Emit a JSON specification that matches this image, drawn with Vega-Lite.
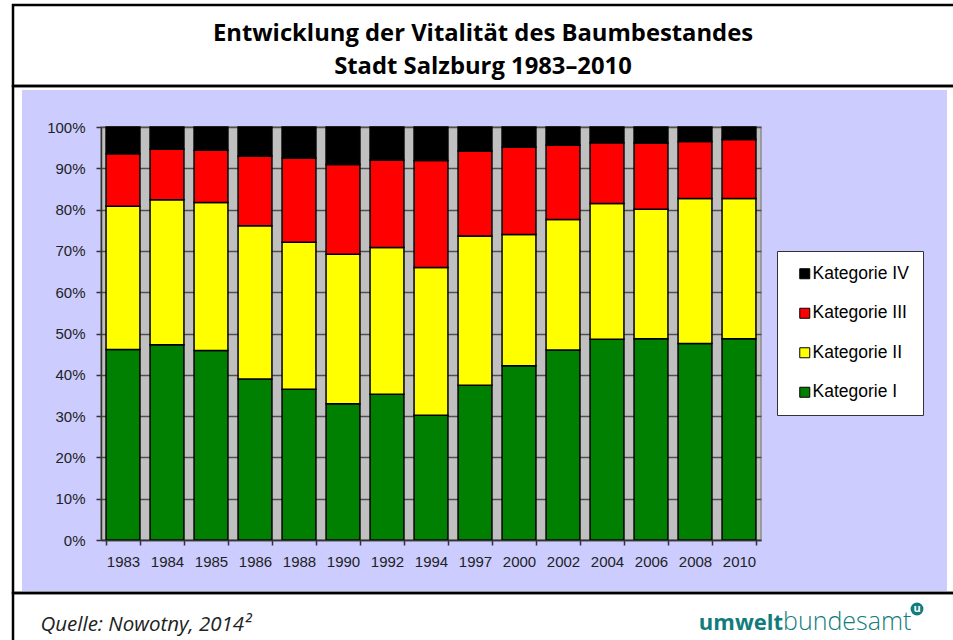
{
  "$schema": "https://vega.github.io/schema/vega-lite/v6.json",
  "width": 660,
  "height": 413,
  "autosize": {"type": "none"},
  "padding": {"left": 101, "top": 127, "right": 192, "bottom": 100},
  "background": "#ccccff",
  "title": {
    "text": ["Entwicklung der Vitalität des Baumbestandes", "Stadt Salzburg 1983–2010"],
    "font": "Open Sans",
    "fontSize": 23.8,
    "fontWeight": "bold",
    "color": "#000000",
    "anchor": "middle",
    "frame": "group",
    "dx": 52,
    "lineHeight": 33,
    "offset": -79
  },
  "data": {
    "values": [
      {"Jahr": "1983", "Kategorie": "Kategorie I", "Anteil": 46.1},
      {"Jahr": "1983", "Kategorie": "Kategorie II", "Anteil": 34.7},
      {"Jahr": "1983", "Kategorie": "Kategorie III", "Anteil": 12.7},
      {"Jahr": "1983", "Kategorie": "Kategorie IV", "Anteil": 6.5},
      {"Jahr": "1984", "Kategorie": "Kategorie I", "Anteil": 47.3},
      {"Jahr": "1984", "Kategorie": "Kategorie II", "Anteil": 35.1},
      {"Jahr": "1984", "Kategorie": "Kategorie III", "Anteil": 12.2},
      {"Jahr": "1984", "Kategorie": "Kategorie IV", "Anteil": 5.4},
      {"Jahr": "1985", "Kategorie": "Kategorie I", "Anteil": 45.9},
      {"Jahr": "1985", "Kategorie": "Kategorie II", "Anteil": 35.8},
      {"Jahr": "1985", "Kategorie": "Kategorie III", "Anteil": 12.7},
      {"Jahr": "1985", "Kategorie": "Kategorie IV", "Anteil": 5.6},
      {"Jahr": "1986", "Kategorie": "Kategorie I", "Anteil": 39.0},
      {"Jahr": "1986", "Kategorie": "Kategorie II", "Anteil": 37.1},
      {"Jahr": "1986", "Kategorie": "Kategorie III", "Anteil": 16.9},
      {"Jahr": "1986", "Kategorie": "Kategorie IV", "Anteil": 7.0},
      {"Jahr": "1988", "Kategorie": "Kategorie I", "Anteil": 36.5},
      {"Jahr": "1988", "Kategorie": "Kategorie II", "Anteil": 35.6},
      {"Jahr": "1988", "Kategorie": "Kategorie III", "Anteil": 20.4},
      {"Jahr": "1988", "Kategorie": "Kategorie IV", "Anteil": 7.5},
      {"Jahr": "1990", "Kategorie": "Kategorie I", "Anteil": 33.0},
      {"Jahr": "1990", "Kategorie": "Kategorie II", "Anteil": 36.2},
      {"Jahr": "1990", "Kategorie": "Kategorie III", "Anteil": 21.7},
      {"Jahr": "1990", "Kategorie": "Kategorie IV", "Anteil": 9.1},
      {"Jahr": "1992", "Kategorie": "Kategorie I", "Anteil": 35.3},
      {"Jahr": "1992", "Kategorie": "Kategorie II", "Anteil": 35.5},
      {"Jahr": "1992", "Kategorie": "Kategorie III", "Anteil": 21.2},
      {"Jahr": "1992", "Kategorie": "Kategorie IV", "Anteil": 8.0},
      {"Jahr": "1994", "Kategorie": "Kategorie I", "Anteil": 30.2},
      {"Jahr": "1994", "Kategorie": "Kategorie II", "Anteil": 35.8},
      {"Jahr": "1994", "Kategorie": "Kategorie III", "Anteil": 25.9},
      {"Jahr": "1994", "Kategorie": "Kategorie IV", "Anteil": 8.1},
      {"Jahr": "1997", "Kategorie": "Kategorie I", "Anteil": 37.5},
      {"Jahr": "1997", "Kategorie": "Kategorie II", "Anteil": 36.1},
      {"Jahr": "1997", "Kategorie": "Kategorie III", "Anteil": 20.6},
      {"Jahr": "1997", "Kategorie": "Kategorie IV", "Anteil": 5.8},
      {"Jahr": "2000", "Kategorie": "Kategorie I", "Anteil": 42.2},
      {"Jahr": "2000", "Kategorie": "Kategorie II", "Anteil": 31.8},
      {"Jahr": "2000", "Kategorie": "Kategorie III", "Anteil": 21.1},
      {"Jahr": "2000", "Kategorie": "Kategorie IV", "Anteil": 4.9},
      {"Jahr": "2002", "Kategorie": "Kategorie I", "Anteil": 46.0},
      {"Jahr": "2002", "Kategorie": "Kategorie II", "Anteil": 31.6},
      {"Jahr": "2002", "Kategorie": "Kategorie III", "Anteil": 18.0},
      {"Jahr": "2002", "Kategorie": "Kategorie IV", "Anteil": 4.4},
      {"Jahr": "2004", "Kategorie": "Kategorie I", "Anteil": 48.6},
      {"Jahr": "2004", "Kategorie": "Kategorie II", "Anteil": 32.9},
      {"Jahr": "2004", "Kategorie": "Kategorie III", "Anteil": 14.7},
      {"Jahr": "2004", "Kategorie": "Kategorie IV", "Anteil": 3.8},
      {"Jahr": "2006", "Kategorie": "Kategorie I", "Anteil": 48.7},
      {"Jahr": "2006", "Kategorie": "Kategorie II", "Anteil": 31.4},
      {"Jahr": "2006", "Kategorie": "Kategorie III", "Anteil": 16.0},
      {"Jahr": "2006", "Kategorie": "Kategorie IV", "Anteil": 3.9},
      {"Jahr": "2008", "Kategorie": "Kategorie I", "Anteil": 47.6},
      {"Jahr": "2008", "Kategorie": "Kategorie II", "Anteil": 35.1},
      {"Jahr": "2008", "Kategorie": "Kategorie III", "Anteil": 13.8},
      {"Jahr": "2008", "Kategorie": "Kategorie IV", "Anteil": 3.5},
      {"Jahr": "2010", "Kategorie": "Kategorie I", "Anteil": 48.7},
      {"Jahr": "2010", "Kategorie": "Kategorie II", "Anteil": 34.0},
      {"Jahr": "2010", "Kategorie": "Kategorie III", "Anteil": 14.3},
      {"Jahr": "2010", "Kategorie": "Kategorie IV", "Anteil": 3.0}
    ]
  },
  "layer": [
    {
      "data": {"values": [{}]},
      "mark": {"type": "rect", "fill": "#ffffff", "x": -101, "x2": 852, "y": -127, "y2": -37}
    },
    {
      "data": {"values": [{}]},
      "mark": {"type": "rect", "fill": "#ffffff", "x": -101, "x2": 852, "y": 464, "y2": 513}
    },
    {
      "data": {"values": [{}]},
      "mark": {"type": "rect", "fill": "#ffffff", "x": -101, "x2": -79, "y": -37, "y2": 464}
    },
    {
      "data": {"values": [{}]},
      "mark": {"type": "rect", "fill": "#ffffff", "x": 846, "x2": 852, "y": -37, "y2": 464}
    },
    {
      "data": {"values": [{}]},
      "mark": {"type": "rect", "filled": false, "stroke": "#000000", "strokeWidth": 2.5, "x": -88, "x2": 862, "y": -122, "y2": -41}
    },
    {
      "data": {"values": [{}]},
      "mark": {"type": "rect", "filled": false, "stroke": "#000000", "strokeWidth": 2.5, "x": -88, "x2": 862, "y": -41, "y2": 466}
    },
    {
      "data": {"values": [{}]},
      "mark": {"type": "rect", "filled": false, "stroke": "#000000", "strokeWidth": 2.5, "x": -88, "x2": 862, "y": 466, "y2": 540}
    },
    {
      "mark": {"type": "bar", "stroke": "#000000", "strokeWidth": 1.5},
      "encoding": {
        "x": {
          "field": "Jahr",
          "type": "ordinal",
          "sort": null,
          "scale": {"paddingInner": 0.23, "paddingOuter": 0.115},
          "axis": {
            "labelAngle": 0,
            "tickBand": "extent",
            "tickSize": 5,
            "labelPadding": 9,
            "zindex": 1,
            "title": "Quelle: Nowotny, 2014²",
            "titleX": -61,
            "titleY": 90,
            "titleAnchor": "start",
            "titleAlign": "left",
            "titleBaseline": "alphabetic",
            "titleFont": "Open Sans",
            "titleFontStyle": "italic",
            "titleFontWeight": "normal",
            "titleFontSize": 20.5,
            "titleColor": "#222222"
          }
        },
        "y": {
          "field": "Anteil",
          "type": "quantitative",
          "stack": "normalize",
          "scale": {"domain": [0, 1]},
          "axis": {
            "values": [0, 0.1, 0.2, 0.3, 0.4, 0.5, 0.6, 0.7, 0.8, 0.9, 1],
            "format": ".0%",
            "grid": true,
            "gridColor": "#505050",
            "gridWidth": 1.5,
            "tickSize": 5,
            "labelPadding": 11,
            "title": null
          }
        },
        "color": {
          "field": "Kategorie",
          "type": "nominal",
          "scale": {
            "domain": ["Kategorie IV", "Kategorie III", "Kategorie II", "Kategorie I"],
            "range": ["#000000", "#ff0000", "#ffff00", "#008000"]
          },
          "legend": {
            "orient": "none",
            "legendX": 676,
            "legendY": 124,
            "title": null,
            "fillColor": "#ffffff",
            "strokeColor": "#333333",
            "padding": 14,
            "symbolType": "square",
            "symbolSize": 100,
            "symbolStrokeColor": "#000000",
            "symbolStrokeWidth": 1,
            "symbolOffset": 5,
            "labelOffset": -1,
            "labelFont": "Liberation Sans",
            "labelFontSize": 17.5,
            "labelColor": "#000000",
            "rowPadding": 20.5
          }
        },
        "order": {"field": "Kategorie", "sort": "ascending"}
      }
    },
    {
      "data": {"values": [{}]},
      "mark": {"type": "text", "text": "umwelt", "x": 682, "y": 503, "align": "right", "baseline": "alphabetic", "font": "Open Sans", "fontWeight": "bold", "fontSize": 22, "fill": "#107c7c"}
    },
    {
      "data": {"values": [{}]},
      "mark": {"type": "text", "text": "bundesamt", "x": 682, "y": 503, "align": "left", "baseline": "alphabetic", "font": "Open Sans", "fontWeight": 300, "fontSize": 25, "fill": "#107c7c"}
    },
    {
      "data": {"values": [{}]},
      "mark": {"type": "point", "shape": "circle", "filled": true, "x": 816, "y": 482, "size": 165, "fill": "#107c7c", "opacity": 1}
    },
    {
      "data": {"values": [{}]},
      "mark": {"type": "text", "text": "u", "x": 816, "y": 482, "align": "center", "baseline": "middle", "font": "Open Sans", "fontWeight": "bold", "fontSize": 11, "fill": "#ffffff"}
    }
  ],
  "config": {
    "view": {"fill": "#c0c0c0", "stroke": "#8c8c8c", "strokeWidth": 1.5},
    "axis": {
      "labelFont": "Liberation Sans",
      "labelFontSize": 15,
      "labelColor": "#222222",
      "domainColor": "#333333",
      "tickColor": "#333333",
      "domainWidth": 1.5,
      "tickWidth": 1.5
    }
  }
}
